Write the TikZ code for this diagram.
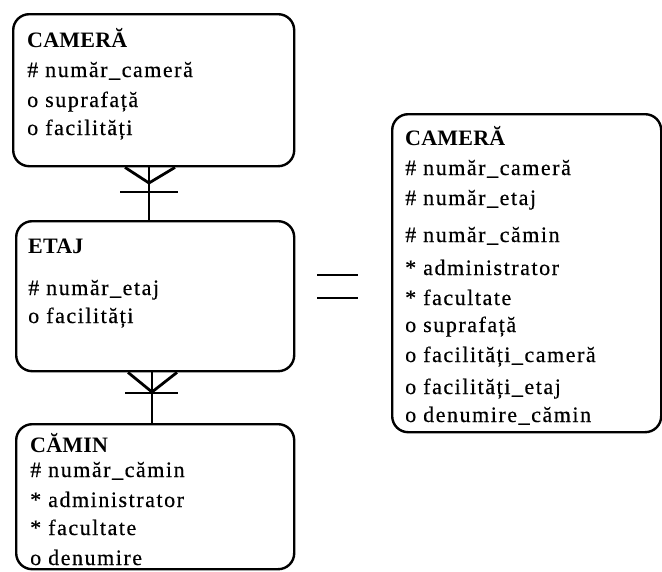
\documentclass[tikz,border=0pt]{standalone}
\usepackage{fontspec}
\setmainfont{Liberation Serif}
\newfontfamily\attrfont[LetterSpace=7,FakeBold=0.4]{Liberation Serif}
\newfontfamily\headfont[LetterSpace=1]{Liberation Serif}
\begin{document}
\begin{tikzpicture}[x=1pt,y=-1pt,
  entity/.style={draw, line width=2.4pt, rounded corners=16pt, anchor=north west, inner sep=0pt},
  head/.style={anchor=base west, inner sep=0pt, font={\headfont\bfseries\fontsize{22}{26}\selectfont}},
  attr/.style={anchor=base west, inner sep=0pt, font={\attrfont\fontsize{22}{26}\selectfont}},
  link/.style={line width=2.8pt}]
\useasboundingbox (0,0) rectangle (662,571);

% entity boxes
\node[entity, minimum width=281pt, minimum height=152pt] (camera) at (12,13) {};
\node[entity, minimum width=278pt, minimum height=150pt] (etaj) at (15,220) {};
\node[entity, minimum width=278pt, minimum height=145pt] (camin) at (15,423) {};
\node[entity, minimum width=269pt, minimum height=318pt] (merged) at (391,113) {};

% CAMERĂ
\node[head] (cH) at (27,47) {CAMERĂ};
\node[attr] (c1) at (27,77) {\# număr\_cameră};
\node[attr] (c2) at (27,107) {o suprafață};
\node[attr] (c3) at (27,135) {o facilități};

% ETAJ
\node[head] (eH) at (28,253) {ETAJ};
\node[attr] (e1) at (28,295) {\# număr\_etaj};
\node[attr] (e2) at (28,323) {o facilități};

% CĂMIN
\node[head] (mH) at (30,452) {CĂMIN};
\node[attr] (m1) at (30,477) {\# număr\_cămin};
\node[attr] (m2) at (30,507) {* administrator};
\node[attr] (m3) at (30,535) {* facultate};
\node[attr] (m4) at (30,565) {o denumire};

% merged CAMERĂ
\node[head] (rH) at (405,145) {CAMERĂ};
\node[attr] (r1) at (405,175) {\# număr\_cameră};
\node[attr] (r2) at (405,205) {\# număr\_etaj};
\node[attr] (r3) at (405,242) {\# număr\_cămin};
\node[attr] (r4) at (405,275) {* administrator};
\node[attr] (r5) at (405,305) {* facultate};
\node[attr] (r6) at (405,332) {o suprafață};
\node[attr] (r7) at (405,362) {o facilități\_cameră};
\node[attr] (r8) at (405,394) {o facilități\_etaj};
\node[attr] (r9) at (405,422) {o denumire\_cămin};

% crow's foot: CAMERĂ -- ETAJ
\coordinate (cf1) at (149,183);
\coordinate (bar1l) at (120,192);
\coordinate (bar1r) at (178,192);
\draw[link] (camera.south -| 149,0) -- (etaj.north -| 149,0);
\draw[link] (camera.south -| 125,0) -- (cf1) -- (camera.south -| 175,0);
\draw[link] (bar1l) -- (bar1r);

% crow's foot: ETAJ -- CĂMIN
\coordinate (cf2) at (152,392);
\coordinate (bar2l) at (125,393);
\coordinate (bar2r) at (178,393);
\draw[link] (etaj.south -| 152,0) -- (camin.north -| 152,0);
\draw[link] (etaj.south -| 128,0) -- (cf2) -- (etaj.south -| 177,0);
\draw[link] (bar2l) -- (bar2r);

% equals sign
\coordinate (eq1a) at (317,275);
\coordinate (eq1b) at (358,275);
\coordinate (eq2a) at (317,298);
\coordinate (eq2b) at (358,298);
\draw[link] (eq1a) -- (eq1b);
\draw[link] (eq2a) -- (eq2b);
\end{tikzpicture}
\end{document}
